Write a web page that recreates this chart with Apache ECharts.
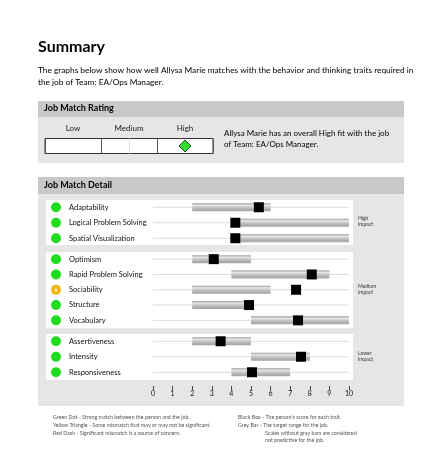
<!DOCTYPE html>
<html><head><meta charset="utf-8">
<script src="https://cdn.jsdelivr.net/npm/echarts@6/dist/echarts.min.js"></script>
<style>html,body{margin:0;padding:0;background:#fff}#c{width:444px;height:451px}</style>
</head><body><div id="c"></div>
<script>
// ---- data ----
var ratingLevels = ['Low', 'Medium', 'High'];
var overallRating = 'High';

var highTraits = ['Adaptability', 'Logical Problem Solving', 'Spatial Visualization'];
var highMatch  = ['green', 'green', 'green'];
var highLow    = [2, 4, 4];
var highHigh   = [6, 10, 10];
var highScore  = [5.4, 4.2, 4.2];

var medTraits = ['Optimism', 'Rapid Problem Solving', 'Sociability', 'Structure', 'Vocabulary'];
var medMatch  = ['green', 'green', 'yellow', 'green', 'green'];
var medLow    = [2, 4, 2, 2, 5];
var medHigh   = [5, 9, 6, 5, 10];
var medScore  = [3.1, 8.1, 7.3, 4.9, 7.4];

var lowTraits = ['Assertiveness', 'Intensity', 'Responsiveness'];
var lowMatch  = ['green', 'green', 'green'];
var lowLow    = [2, 5, 4];
var lowHigh   = [5, 8, 7];
var lowScore  = [3.45, 7.55, 5.05];

var scaleTicks = [0, 1, 2, 3, 4, 5, 6, 7, 8, 9, 10];

// ---- chart ----
var FONT = 'Lato, "Open Sans", sans-serif';
var chart = echarts.init(document.getElementById('c'), null, {renderer: 'canvas'});

var groups = [
  {traits: highTraits, match: highMatch, lo: highLow, hi: highHigh, score: highScore, top: 199.5, height: 46.5},
  {traits: medTraits, match: medMatch, lo: medLow, hi: medHigh, score: medScore, top: 251.5, height: 76.5},
  {traits: lowTraits, match: lowMatch, lo: lowLow, hi: lowHigh, score: lowScore, top: 333.5, height: 46.5}
];

var grids = [], xAxes = [], yAxes = [], series = [];

// rating grid (index 0)
grids.push({left: 45, top: 138.5, width: 168, height: 15, show: true, backgroundColor: '#fff', borderColor: '#333', borderWidth: 1});
xAxes.push({type: 'category', gridIndex: 0, data: ratingLevels, position: 'top', boundaryGap: true,
  axisLine: {show: false}, axisTick: {show: false},
  axisLabel: {margin: 6, fontSize: 8, fontFamily: FONT, color: '#222'},
  splitLine: {show: true, lineStyle: {color: '#556', width: 1}}});
yAxes.push({type: 'value', gridIndex: 0, min: 0, max: 1, show: false});
series.push({type: 'scatter', xAxisIndex: 0, yAxisIndex: 0, symbol: 'diamond', symbolSize: [12, 12],
  data: [[overallRating, 0.5]], itemStyle: {color: '#2ee02e', borderColor: '#1a1a1a', borderWidth: 0.8, opacity: 1}, z: 5,
  markLine: {silent: true, symbol: 'none', label: {show: false},
    lineStyle: {color: '#ddd', type: 'solid', width: 1}, data: [{xAxis: 'Medium'}]}});

var barGrad = new echarts.graphic.LinearGradient(0, 0, 0, 1, [
  {offset: 0, color: '#9a9a9a'}, {offset: 0.25, color: '#e6e6e6'},
  {offset: 0.6, color: '#bcbcbc'}, {offset: 1, color: '#a2a2a2'}]);

groups.forEach(function (g, i) {
  var gi = i + 1;
  grids.push({left: 153, width: 196, top: g.top, height: g.height});
  xAxes.push({type: 'value', gridIndex: gi, min: 0, max: 10, interval: 1,
    show: gi === 3, offset: 6,
    axisLine: {show: false},
    axisTick: {show: true, length: 4, lineStyle: {color: '#444'}},
    axisLabel: {margin: 4, fontSize: 7, fontFamily: FONT, color: '#111',
      formatter: function (v) { return scaleTicks.indexOf(v) >= 0 ? String(v) : ''; }},
    splitLine: {show: false}});
  yAxes.push({type: 'category', gridIndex: gi, data: g.traits, inverse: true,
    axisLine: {show: false}, axisTick: {show: false}, splitLine: {show: false},
    axisLabel: {align: 'left', margin: 102, fontSize: 7.5, fontFamily: FONT, color: '#111',
      formatter: function (v, idx) {
        return (g.match[idx] === 'yellow' ? '{y|▲}' : '{g|}') + '{t|' + v + '}';
      },
      rich: {
        g: {width: 10, height: 10, borderRadius: 5, backgroundColor: '#1fdc1f'},
        y: {width: 10, height: 10, borderRadius: 5, backgroundColor: '#f4b70d', color: '#fff', fontSize: 5, align: 'center', lineHeight: 10},
        t: {padding: [0, 0, 0, 8], fontSize: 7.5, fontFamily: FONT, color: '#111'}
      }}});
  var rows = g.traits.map(function (t, k) { return [k, g.lo[k], g.hi[k]]; });
  series.push({type: 'custom', xAxisIndex: gi, yAxisIndex: gi, data: rows, silent: true,
    encode: {x: [1, 2], y: 0},
    renderItem: function (params, api) {
      var row = api.value(0);
      var a = api.coord([0, row]), b = api.coord([10, row]);
      var s = api.coord([api.value(1), row]), e = api.coord([api.value(2), row]);
      return {type: 'group', children: [
        {type: 'line', shape: {x1: a[0], y1: a[1], x2: b[0], y2: b[1]}, style: {stroke: '#dcdcdc', lineWidth: 1}},
        {type: 'rect', shape: {x: s[0], y: s[1] - 4, width: e[0] - s[0], height: 8}, style: {fill: barGrad}}
      ]};
    }});
  series.push({type: 'scatter', xAxisIndex: gi, yAxisIndex: gi, symbol: 'rect', symbolSize: 10, z: 5,
    itemStyle: {color: '#000', opacity: 1}, silent: true,
    data: g.score.map(function (v, k) { return [v, k]; })});
});

function txt(x, y, text, size, opt) {
  opt = opt || {};
  return {type: 'text', left: x, top: y, z: 10, silent: true,
    style: {text: text, fontSize: size, fontFamily: FONT, fontWeight: opt.bold ? 'bold' : 'normal',
      fill: opt.color || '#111', lineHeight: opt.lh || size * 1.2}};
}
function rect(x, y, w, h, c) {
  return {type: 'rect', shape: {x: x, y: y, width: w, height: h}, style: {fill: c}, z: -10, silent: true};
}

var graphics = [
  rect(38, 101, 366, 16, '#c8c8c8'),
  rect(38, 117, 366, 46, '#e6e6e6'),
  rect(38, 177, 366, 17, '#c8c8c8'),
  rect(38, 194, 366, 212, '#e6e6e6'),
  rect(46, 200, 307, 45, '#fff'),
  rect(46, 252, 307, 76, '#fff'),
  rect(46, 334, 307, 46, '#fff'),
  txt(38, 37, 'Summary', 16, {bold: true, color: '#000'}),
  txt(38, 64, 'The graphs below show how well Allysa Marie matches with the behavior and thinking traits required in\nthe job of Team: EA/Ops Manager.', 8.3, {lh: 12, color: '#000'}),
  txt(44, 103, 'Job Match Rating', 9, {bold: true, color: '#000'}),
  txt(224, 127.5, 'Allysa Marie has an overall High fit with the job\nof Team: EA/Ops Manager.', 8, {lh: 11.5, color: '#000'}),
  txt(44, 180, 'Job Match Detail', 9, {bold: true, color: '#000'}),
  txt(358, 215, 'High\nImpact', 5, {lh: 6.5, color: '#333'}),
  txt(358, 283, 'Medium\nImpact', 5, {lh: 6.5, color: '#333'}),
  txt(358, 350, 'Lower\nImpact', 5, {lh: 6.5, color: '#333'}),
  txt(53, 413, 'Green Dot - Strong match between the person and the job.\nYellow Triangle - Some mismatch that may or may not be significant.\nRed Dash - Significant mismatch is a source of concern.', 5.3, {lh: 8.3, color: '#555'}),
  txt(238, 413, 'Black Box - The person\'s score for each trait.\nGrey Bar - The target range for the job.', 5.3, {lh: 8.3, color: '#555'}),
  txt(265, 429.5, 'Scales without gray bars are considered\nnot predictive for the job.', 5.3, {lh: 7.2, color: '#555'})
];

chart.setOption({
  animation: false,
  backgroundColor: '#fff',
  graphic: graphics,
  grid: grids,
  xAxis: xAxes,
  yAxis: yAxes,
  series: series
});
</script></body></html>
